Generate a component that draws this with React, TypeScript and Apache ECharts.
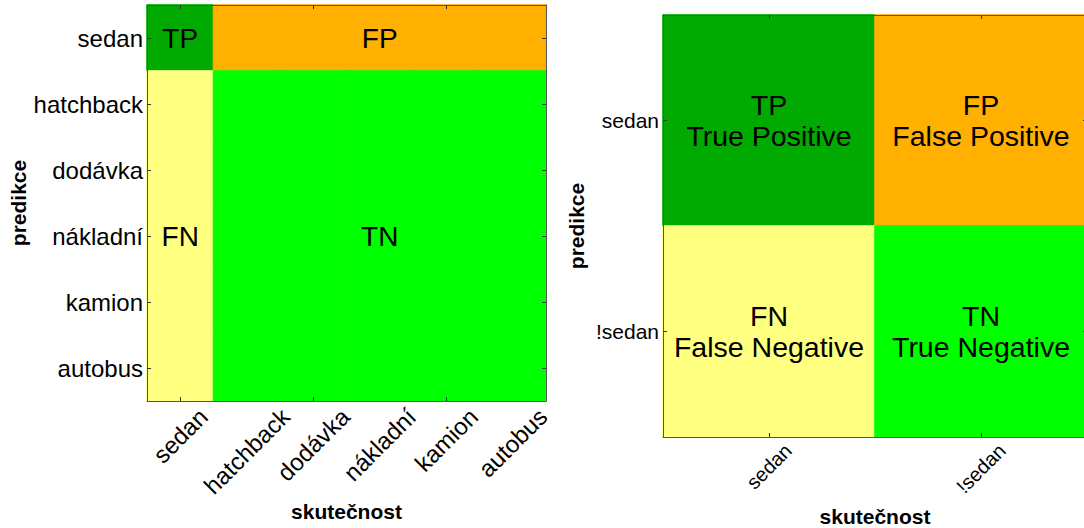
import React, { useEffect, useRef } from 'react';
import * as echarts from 'echarts';

// ---------- data ----------
const leftCategories = ['sedan', 'hatchback', 'dodávka', 'nákladní', 'kamion', 'autobus'];
// rows = predicted (predikce), columns = actual (skutečnost)
const leftOutcomes = [
  ['TP', 'FP', 'FP', 'FP', 'FP', 'FP'],
  ['FN', 'TN', 'TN', 'TN', 'TN', 'TN'],
  ['FN', 'TN', 'TN', 'TN', 'TN', 'TN'],
  ['FN', 'TN', 'TN', 'TN', 'TN', 'TN'],
  ['FN', 'TN', 'TN', 'TN', 'TN', 'TN'],
  ['FN', 'TN', 'TN', 'TN', 'TN', 'TN'],
];
const leftCellLabels = [
  { actual: 'sedan', predicted: 'sedan', text: 'TP' },
  { actual: 'nákladní', predicted: 'sedan', text: 'FP' },
  { actual: 'sedan', predicted: 'nákladní', text: 'FN' },
  { actual: 'nákladní', predicted: 'nákladní', text: 'TN' },
];

const rightCategories = ['sedan', '!sedan'];
const rightOutcomes = [
  ['TP', 'FP'],
  ['FN', 'TN'],
];
const rightCellLabels = [
  { actual: 'sedan', predicted: 'sedan', text: 'TP\nTrue Positive' },
  { actual: '!sedan', predicted: 'sedan', text: 'FP\nFalse Positive' },
  { actual: 'sedan', predicted: '!sedan', text: 'FN\nFalse Negative' },
  { actual: '!sedan', predicted: '!sedan', text: 'TN\nTrue Negative' },
];

const outcomeCodes = ['TP', 'FP', 'FN', 'TN'];
const outcomeColors = ['#00AA00', '#FFB000', '#FFFF80', '#00FF00'];

const xTitle = 'skutečnost';
const yTitle = 'predikce';

// ---------- helpers ----------
const FONT = '"Liberation Sans", Arial, Helvetica, sans-serif';

function measure(text: string, size: number): number {
  const c = document.createElement('canvas');
  const ctx = c.getContext('2d');
  if (!ctx) return text.length * size * 0.55;
  ctx.font = `${size}px "Liberation Sans", Arial, sans-serif`;
  return ctx.measureText(text).width;
}

function buildData(cats: string[], outcomes: string[][], labels: { actual: string; predicted: string; text: string }[]) {
  const out: any[] = [];
  outcomes.forEach((row, r) => {
    row.forEach((o, c) => {
      const code = outcomeCodes.indexOf(o);
      const lab = labels.find((l) => l.actual === cats[c] && l.predicted === cats[r]);
      // border in the cell's own colour hides anti-aliasing seams between cells
      const item: any = {
        value: [c, r, code],
        itemStyle: { borderColor: outcomeColors[code], borderWidth: 1 },
      };
      if (lab) item.label = { show: true, formatter: lab.text };
      out.push(item);
    });
  });
  return out;
}

function axesFor(gridIndex: number, cats: string[], yFont: number, xNameGap: number, yNameGap: number, titleSize: number) {
  const lineStyle = { color: '#555', width: 1 };
  const tick = { show: true, inside: true, alignWithLabel: true, length: 4, lineStyle: { color: '#333', width: 1 } };
  const xAxes = [
    {
      type: 'category',
      gridIndex,
      position: 'bottom',
      z: 10,
      data: cats,
      axisLine: { show: true, lineStyle },
      axisTick: tick,
      axisLabel: { show: false },
      splitLine: { show: false },
      name: xTitle,
      nameLocation: 'middle',
      nameGap: xNameGap,
      nameMoveOverlap: false,
      nameTextStyle: { fontWeight: 'bold', fontSize: titleSize, color: '#000', fontFamily: FONT },
    },
    {
      type: 'category',
      gridIndex,
      position: 'top',
      z: 10,
      data: cats,
      axisLine: { show: true, lineStyle },
      axisTick: tick,
      axisLabel: { show: false },
      splitLine: { show: false },
    },
  ];
  const yAxes = [
    {
      type: 'category',
      gridIndex,
      position: 'left',
      inverse: true,
      z: 10,
      data: cats,
      axisLine: { show: true, lineStyle },
      axisTick: tick,
      axisLabel: { show: true, interval: 0, margin: 4, fontSize: yFont, color: '#000', fontFamily: FONT },
      splitLine: { show: false },
      name: yTitle,
      nameLocation: 'middle',
      nameGap: yNameGap,
      nameMoveOverlap: false,
      nameTextStyle: { fontWeight: 'bold', fontSize: titleSize, color: '#000', fontFamily: FONT },
    },
    {
      type: 'category',
      gridIndex,
      position: 'right',
      inverse: true,
      z: 10,
      data: cats,
      axisLine: { show: true, lineStyle },
      axisTick: tick,
      axisLabel: { show: false },
      splitLine: { show: false },
    },
  ];
  return { xAxes, yAxes };
}

// rotated (45°) x tick labels, centred under each tick like matplotlib's ha="center"
function rotatedLabels(chart: any, xAxisIndex: number, yAxisIndex: number, cats: string[], size: number, pad: number) {
  const n = cats.length;
  const y0 = chart.convertToPixel({ yAxisIndex }, 0) as number;
  const y1 = chart.convertToPixel({ yAxisIndex }, n - 1) as number;
  const band = (y1 - y0) / (n - 1);
  const bottom = y1 + band / 2;
  return cats.map((c, i) => {
    const px = chart.convertToPixel({ xAxisIndex }, i) as number;
    const w = measure(c, size);
    const cy = bottom + pad + 0.3536 * (w + size);
    return {
      type: 'text',
      x: px,
      y: cy,
      rotation: Math.PI / 4,
      z: 20,
      silent: true,
      style: {
        text: c,
        fill: '#000',
        fontSize: size,
        fontFamily: FONT,
        align: 'center',
        verticalAlign: 'middle',
      },
    };
  });
}

export default function App() {
  const ref = useRef<HTMLDivElement>(null);

  useEffect(() => {
    document.body.style.margin = '0';
    if (!ref.current) return;
    const chart = echarts.init(ref.current, undefined, { renderer: 'svg' });

    const left = axesFor(0, leftCategories, 24, 100, 118, 21);
    const right = axesFor(1, rightCategories, 21, 69, 76, 21);

    const option: any = {
      animation: false,
      backgroundColor: '#fff',
      grid: [
        { left: 147, top: 5, width: 399, height: 396, containLabel: false, outerBoundsMode: 'none' },
        { left: 663, top: 15, width: 424, height: 422, containLabel: false, outerBoundsMode: 'none' },
      ],
      xAxis: [...left.xAxes, ...right.xAxes],
      yAxis: [...left.yAxes, ...right.yAxes],
      visualMap: {
        type: 'piecewise',
        show: false,
        dimension: 2,
        seriesIndex: [0, 1],
        pieces: outcomeCodes.map((c, i) => ({ value: i, color: outcomeColors[i], label: c })),
      },
      series: [
        {
          type: 'heatmap',
          xAxisIndex: 0,
          yAxisIndex: 0,
          data: buildData(leftCategories, leftOutcomes, leftCellLabels),
          label: { show: false, color: '#000', fontSize: 28, fontFamily: FONT },
          emphasis: { disabled: true },
        },
        {
          type: 'heatmap',
          xAxisIndex: 2,
          yAxisIndex: 2,
          data: buildData(rightCategories, rightOutcomes, rightCellLabels),
          label: { show: false, color: '#000', fontSize: 28.5, lineHeight: 31, fontFamily: FONT },
          emphasis: { disabled: true },
        },
      ],
    };
    chart.setOption(option);

    const graphic = [
      ...rotatedLabels(chart, 0, 0, leftCategories, 24, 3),
      ...rotatedLabels(chart, 2, 2, rightCategories, 20, 3),
    ];
    chart.setOption({ graphic });

    return () => chart.dispose();
  }, []);

  return <div ref={ref} style={{ width: 1084, height: 528 }} />;
}
